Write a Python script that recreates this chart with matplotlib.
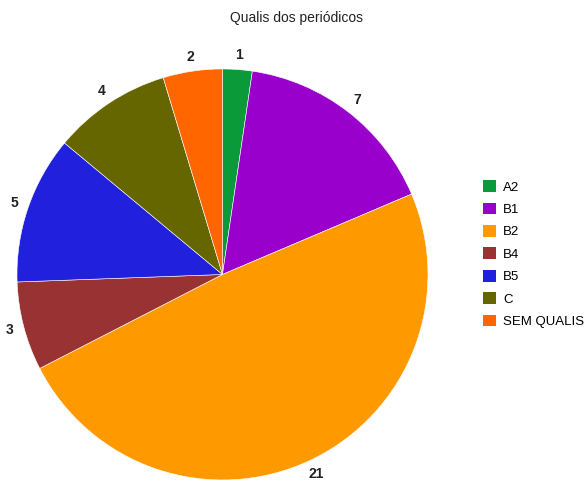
import matplotlib.pyplot as plt
from matplotlib.patches import Patch

plt.rcParams['font.family'] = ['Liberation Sans', 'DejaVu Sans']

categories = ['A2', 'B1', 'B2', 'B4', 'B5', 'C', 'SEM QUALIS']
counts = [1, 7, 21, 3, 5, 4, 2]
colors = ['#0a9a3a', '#9900cc', '#ff9900', '#993333', '#2020dd', '#666600', '#ff6600']

fig = plt.figure(figsize=(5.85, 4.82), dpi=100)
ax = fig.add_axes([0.029, 0.0042, 0.7026, 0.8527])

wedges, texts = ax.pie(counts, colors=colors, startangle=90, counterclock=False,
                       labels=[str(c) for c in counts], labeldistance=1.07,
                       wedgeprops=dict(edgecolor='white', linewidth=0.4))
for t in texts:
    t.set_fontsize(10)
    t.set_fontweight('bold')
    t.set_color('#222222')
    t.set_ha('center')
    t.set_va('center')
ax.set_xlim(-1, 1)
ax.set_ylim(-1, 1)
ax.set_aspect('equal')

fig.text(0.506, 0.962, 'Qualis dos periódicos', ha='center', va='center',
         fontsize=10, color='#222222')

handles = [Patch(facecolor=c, edgecolor='none') for c in colors]
fig.legend(handles, categories, loc='upper left', bbox_to_anchor=(0.826, 0.626),
           frameon=False, fontsize=9.5, handlelength=1.0, handleheight=1.0,
           handletextpad=0.5, labelspacing=0.68, borderpad=0, borderaxespad=0)

fig.savefig('out.png', dpi=100)
